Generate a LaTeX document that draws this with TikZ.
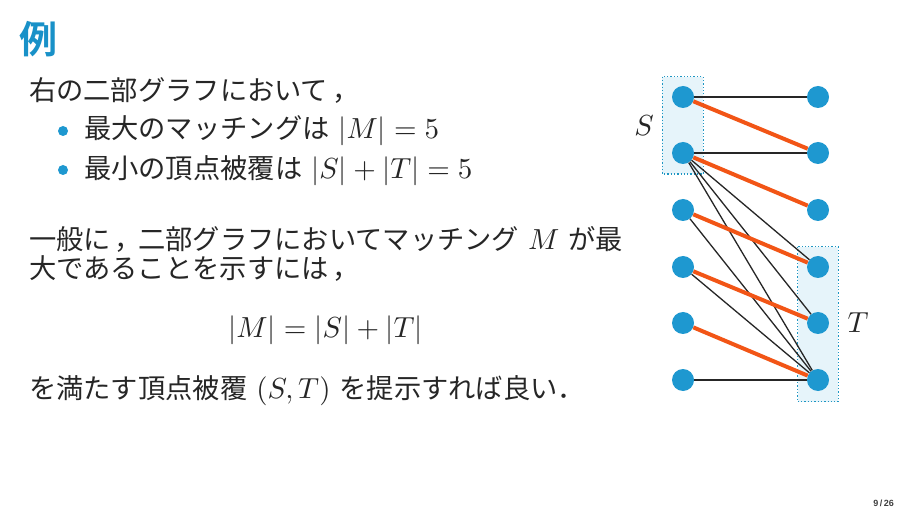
\documentclass[tikz,border=0pt]{standalone}
\usepackage[no-math]{fontspec}
\DeclareFontShape{OT1}{cmr}{m}{n}{<->cmr10}{}
\DeclareFontShape{OML}{cmm}{m}{it}{<->cmmi10}{}
\DeclareFontShape{OMS}{cmsy}{m}{n}{<->cmsy10}{}
\newfontfamily\jp[Scale=0.94]{Noto Sans CJK JP}
\newfontfamily\jptitle{Noto Sans CJK JP Bold}
\newfontfamily\pagefont{Liberation Sans}
\newcommand{\jgap}{\hspace{9pt}}
\newcommand{\jcomma}{\kern4pt，\kern-4pt}
\definecolor{nodeblue}{RGB}{30,152,208}
\definecolor{matchred}{RGB}{242,85,22}
\definecolor{boxfill}{RGB}{230,244,250}
\definecolor{boxline}{RGB}{30,150,195}
\definecolor{titleblue}{RGB}{25,145,200}
\definecolor{bodytext}{RGB}{38,38,38}
\begin{document}
\begin{tikzpicture}[x=1pt,y=-1pt,
  txt/.style={anchor=base west,inner sep=0pt,text=bodytext,font=\fontsize{29}{34}\selectfont\jp},
  eqn/.style={anchor=base,inner sep=0pt,text=bodytext,font=\fontsize{29}{34}\selectfont},
  bulletdot/.style={circle,fill=nodeblue,inner sep=0pt,minimum size=10pt},
  vtx/.style={circle,fill=nodeblue,inner sep=0pt,minimum size=22pt},
  plain/.style={draw=black!85,line width=1.3pt},
  matched/.style={draw=matchred,line width=4pt},
  coverbox/.style={fill=boxfill,draw=boxline,line width=1.3pt,dash pattern=on 1.3pt off 2pt},
  setlabel/.style={inner sep=0pt,text=bodytext,font=\fontsize{29}{34}\selectfont}]
\useasboundingbox[fill=white] (0,0) rectangle (907,510);

% title
\node[anchor=base west,inner sep=0pt,text=titleblue,font=\fontsize{38}{40}\selectfont\jptitle] (title) at (19,54) {例};

% text
\node[txt] (l1) at (29,101) {右の二部グラフにおいて\jcomma};
\node[bulletdot] (b1) at (63,131) {};
\node[txt] (l2) at (84,138.5) {最大のマッチングは\jgap$|M|=5$};
\node[bulletdot] (b2) at (63,170) {};
\node[txt] (l3) at (84,178.5) {最小の頂点被覆は\jgap$|S|+|T|=5$};
\node[txt] (l4) at (29,250) {一般に\jcomma 二部グラフにおいてマッチング\jgap$M$\jgap が最};
\node[txt] (l5) at (29,278.5) {大であることを示すには\jcomma};
\node[eqn] (eq) at (325.5,337.7) {$|M|=|S|+|T|$};
\node[txt] (l6) at (29,398.5) {を満たす頂点被覆\jgap$(S,T)$\jgap を提示すれば良い．};

% cover boxes
\path[coverbox] (662.3,76.7) rectangle (703.3,174);
\path[coverbox] (797.7,246.7) rectangle (838.3,401.7);
\node[setlabel] (Slab) at (644,126) {$S$};
\node[setlabel] (Tlab) at (858,323) {$T$};

% vertices
\foreach \i/\y in {1/97,2/153,3/210,4/267,5/323,6/380}{
  \node[vtx] (L\i) at (683,\y) {};
  \node[vtx] (R\i) at (818,\y) {};
}

% edges
\foreach \a/\b in {1/1,2/2,2/4,2/5,2/6,3/6,4/6,6/6}{
  \draw[plain] (L\a) -- (R\b);
}
\foreach \a/\b in {1/2,2/3,3/4,4/5,5/6}{
  \draw[matched] (L\a) -- (R\b);
}

% page number
\node[anchor=base east,inner sep=0pt,text=black!75,font=\fontsize{9}{10}\selectfont\pagefont\bfseries] (page) at (894,506) {9\,/\,26};
\end{tikzpicture}
\end{document}
